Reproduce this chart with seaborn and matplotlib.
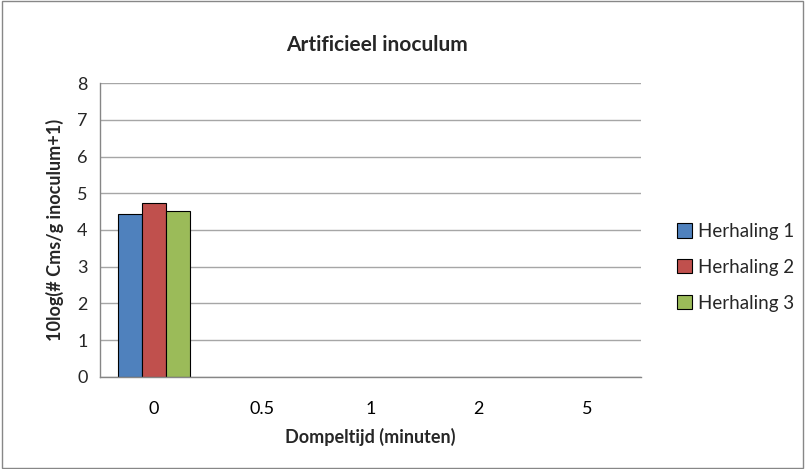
import matplotlib
matplotlib.use("Agg")
import matplotlib.pyplot as plt
import seaborn as sns
import pandas as pd
import numpy as np
from matplotlib.patches import Rectangle, Patch

categories = ["0", "0.5", "1", "2", "5"]
herhaling_1 = [4.44, np.nan, np.nan, np.nan, np.nan]
herhaling_2 = [4.73, np.nan, np.nan, np.nan, np.nan]
herhaling_3 = [4.52, np.nan, np.nan, np.nan, np.nan]
series_names = ["Herhaling 1", "Herhaling 2", "Herhaling 3"]
colors = ["#4F81BD", "#C0504D", "#9BBB59"]

rows = []
for name, vals in zip(series_names, [herhaling_1, herhaling_2, herhaling_3]):
    for c, v in zip(categories, vals):
        rows.append({"Dompeltijd": c, "waarde": v, "serie": name})
df = pd.DataFrame(rows)

sns.set_style("white")
plt.rcParams["font.family"] = ["Lato", "DejaVu Sans"]

fig = plt.figure(figsize=(8.05, 4.69), dpi=100)
ax = fig.add_axes([0.1242, 0.1962, 0.6721, 0.6268])

sns.barplot(data=df.dropna(), x="Dompeltijd", y="waarde", hue="serie",
            order=categories, hue_order=series_names, palette=colors,
            width=0.66, gap=0, edgecolor="black", linewidth=0.8,
            errorbar=None, ax=ax, legend=False, saturation=1)

ax.set_xlim(-0.5, 4.5)
ax.set_ylim(0, 8)
ax.set_yticks(range(0, 9))
ax.yaxis.grid(True, color="#A6A6A6", linewidth=1)
ax.set_axisbelow(True)
for s in ["top", "right"]:
    ax.spines[s].set_visible(False)
for s in ["left", "bottom"]:
    ax.spines[s].set_color("#868686")
    ax.spines[s].set_linewidth(1)

ax.set_xticks(range(5))
ax.set_xticklabels(categories)
ax.tick_params(axis="x", length=0, labelsize=13, pad=17, colors="black")
ax.set_xticks(np.arange(-0.5, 5.0, 1.0), minor=True)
ax.tick_params(axis="x", which="minor", length=6, color="#868686", direction="out")
ax.tick_params(axis="y", length=5, color="#868686", labelsize=13, pad=4, direction="out")

ax.set_xlabel("Dompeltijd (minuten)", fontsize=13, fontweight="bold", labelpad=8)
ax.set_ylabel("10log(# Cms/g inoculum+1)", fontsize=13, fontweight="bold", labelpad=9)
fig.text(0.4683, 0.905, "Artificieel inoculum", ha="center", va="center",
         fontsize=15, fontweight="bold")

handles = [Patch(facecolor=c, edgecolor="black", linewidth=0.8) for c in colors]
fig.legend(handles, series_names, loc="center left", bbox_to_anchor=(0.82, 0.43),
           frameon=False, fontsize=13.5, handlelength=0.8, handleheight=0.8,
           handletextpad=0.3, labelspacing=1.0)

fig.patches.append(Rectangle((0.002, 0.003), 0.996, 0.994, transform=fig.transFigure,
                             fill=False, edgecolor="#878787", linewidth=1))

fig.savefig("out.png", dpi=100)
